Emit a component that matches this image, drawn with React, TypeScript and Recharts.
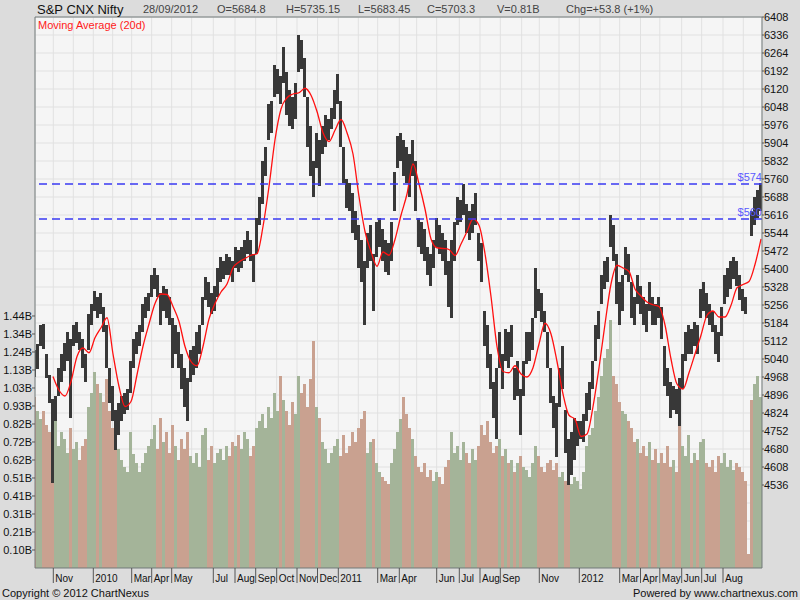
import React from 'react';
import { ComposedChart, Bar, Line, XAxis, YAxis, CartesianGrid, ReferenceLine, Cell } from 'recharts';

const FONT = "Arial, 'Liberation Sans', sans-serif";

// one point every 3 trading days, starting early Oct 2009 (trading-day index 0)
const highs: (number | null)[] = [
  // Oct 2009 - Apr 2010
  5077, 5100, 5176, 5180, 5062, 4977, 4880, 4892, 5006, 5062, 5105, 5148, 5119, 5176, 5190, 5148, 5119, 5062, 5219, 5262, 5312,
  5290, 5304, 5248, 5176, 5006, 4934, 4835, 4863, 4892, 4906, 4920, 5034, 5119, 5148, 5176, 5262, 5290, 5304, 5376, 5404, 5376,
  // Apr 2010 - Oct 2010
  5304, 5333, 5319, 5290, 5205, 5176, 5148, 5062, 5006, 4963, 5077, 5091, 5148, 5176, 5290, 5368, 5347, 5304, 5333, 5404, 5447,
  5433, 5461, 5447, 5433, 5490, 5475, 5490, 5518, 5553, 5518, 5461, 5603, 5689, 5831, 5888, 6059, 6073, 6216, 6201, 6173, 6287,
  // Oct 2010 - Apr 2011
  6187, 6116, 6087, 6144, 6336, 6315, 6244, 6087, 5973, 5831, 5945, 5917, 5973, 6016, 6002, 6045, 6116, 6180, 6073, 5888, 5760,
  5746, 5703, 5632, 5575, 5518, 5433, 5546, 5575, 5461, 5589, 5603, 5561, 5518, 5504, 5589, 5788, 5931, 5945, 5917, 5888, 5860,
  // Apr 2011 - Oct 2011
  5917, 5831, 5603, 5589, 5561, 5490, 5461, 5518, 5603, 5575, 5546, 5518, 5433, 5518, 5589, 5689, 5675, 5739, 5660, 5632, 5660,
  5703, 5546, 5504, 5233, 5176, 5062, 4949, 5006, 5148, 5062, 5162, 5148, 5176, 5006, 5034, 4920, 5034, 5148, 5148, 5205,
  // Oct 2011 - Apr 2012
  5404, 5319, 5304, 5233, 5148, 5006, 4892, 4863, 5006, 5091, 4835, 4721, 4749, 4806, 4792, 4792, 4820, 4906, 4949, 5034, 5176,
  5233, 5376, 5433, 5447, 5618, 5575, 5461, 5347, 5376, 5490, 5461, 5347, 5290, 5376, 5333, 5290, 5262, 5347, 5290, 5262, 5290,
  // May 2012 - Sep 2012
  5247, 5091, 5006, 4949, 4934, 4920, 4963, 5062, 5148, 5176, 5162, 5190, 5176, 5319, 5347, 5304, 5262, 5233, 5176, 5148, 5248,
  5376, 5404, 5433, 5447, 5433, 5376, 5319, 5290, null, 5632, 5689, 5717, 5746,
];
const lows: (number | null)[] = [
  4970, 5000, 5091, 5080, 4963, 4863, 4545, 4792, 4892, 4949, 4991, 5034, 4806, 5091, 5105, 5077, 5006, 4949, 5077, 5176, 5233,
  5205, 5219, 5148, 5006, 4863, 4792, 4678, 4735, 4792, 4820, 4835, 4906, 5006, 5062, 5091, 5148, 5205, 5233, 5290, 5319, 5290,
  5176, 5233, 5205, 5176, 5006, 5062, 5006, 4920, 4849, 4792, 4949, 4977, 5006, 5062, 5176, 5276, 5248, 5219, 5233, 5290, 5347,
  5361, 5376, 5376, 5347, 5404, 5390, 5404, 5433, 5461, 5433, 5347, 5461, 5575, 5660, 5774, 5917, 5945, 6087, 6102, 6059, 6144,
  6016, 5973, 5959, 6002, 6187, 6201, 6087, 5888, 5774, 5689, 5803, 5731, 5860, 5888, 5917, 5959, 6002, 6059, 5888, 5746, 5646,
  5632, 5546, 5518, 5404, 5347, 5176, 5404, 5433, 5233, 5447, 5490, 5433, 5390, 5376, 5433, 5632, 5803, 5831, 5774, 5746, 5689,
  5774, 5632, 5490, 5461, 5433, 5376, 5333, 5404, 5490, 5461, 5433, 5376, 5248, 5205, 5433, 5575, 5589, 5618, 5546, 5518, 5546,
  5575, 5433, 5347, 5091, 5006, 4920, 4806, 4721, 5006, 4920, 5034, 5006, 5048, 4878, 4892, 4735, 4892, 5020, 5034, 5077,
  5205, 5233, 5190, 5148, 5006, 4863, 4764, 4650, 4849, 4920, 4664, 4536, 4578, 4635, 4692, 4721, 4707, 4792, 4835, 4920, 5034,
  5119, 5262, 5319, 5347, 5490, 5433, 5262, 5176, 5233, 5376, 5347, 5205, 5176, 5262, 5219, 5176, 5148, 5233, 5176, 5176, 5205,
  5119, 4934, 4892, 4806, 4835, 4820, 4771, 4920, 5034, 5062, 5062, 5091, 5062, 5205, 5233, 5205, 5176, 5148, 5062, 5027, 5134,
  5262, 5290, 5319, 5361, 5333, 5276, 5233, 5219, null, 5532, 5575, 5603, 5632,
];
// volume in billions, one per point
const volumes: number[] = [
  0.98, 0.9, 0.85, 0.9, 0.82, 0.78, 0.95, 0.84, 0.7, 0.78, 0.74, 0.66, 0.8, 0.68, 0.72, 0.62, 0.7, 0.74, 0.92, 1.0, 1.12,
  1.05, 1.0, 0.95, 1.08, 0.9, 0.8, 0.76, 0.68, 0.62, 0.58, 0.55, 0.78, 0.65, 0.6, 0.55, 0.6, 0.66, 0.7, 0.74, 0.82, 0.68,
  0.86, 0.72, 0.78, 0.66, 0.82, 0.7, 0.62, 0.74, 0.68, 0.78, 0.64, 0.6, 0.66, 0.58, 0.76, 0.8, 0.62, 0.7, 0.6, 0.66, 0.68,
  0.62, 0.7, 0.64, 0.72, 0.7, 0.76, 0.68, 0.78, 0.74, 0.64, 0.7, 0.8, 0.84, 0.88, 0.8, 0.92, 0.86, 1.0, 0.9, 1.1, 0.96,
  0.9, 0.82, 0.95, 0.88, 1.1, 1.0, 1.05, 0.92, 1.08, 1.3, 0.92, 0.86, 0.72, 0.68, 0.6, 0.66, 0.7, 0.74, 0.64, 0.76, 0.66,
  0.7, 0.78, 0.72, 0.8, 0.85, 0.9, 0.66, 0.72, 0.74, 0.6, 0.55, 0.52, 0.5, 0.48, 0.6, 0.68, 0.78, 0.85, 0.98, 0.88, 0.8,
  0.74, 0.64, 0.58, 0.55, 0.6, 0.52, 0.56, 0.5, 0.55, 0.52, 0.48, 0.58, 0.62, 0.78, 0.66, 0.7, 0.62, 0.72, 0.66, 0.6, 0.68,
  0.62, 0.7, 0.82, 0.76, 0.84, 0.72, 0.66, 0.7, 0.74, 0.64, 0.68, 0.6, 0.62, 0.55, 0.6, 0.64, 0.58, 0.56, 0.52, 0.6,
  0.7, 0.64, 0.58, 0.55, 0.6, 0.62, 0.56, 0.6, 0.52, 0.55, 0.5, 0.58, 0.48, 0.52, 0.5, 0.45, 0.55, 0.7, 0.76, 0.8, 0.9,
  0.98, 1.1, 1.2, 1.25, 1.42, 1.1, 1.05, 0.95, 0.9, 0.88, 0.84, 0.8, 0.72, 0.74, 0.66, 0.7, 0.64, 0.72, 0.62, 0.68, 0.6,
  0.66, 0.6, 0.7, 0.58, 0.62, 0.55, 0.9, 0.7, 0.64, 0.76, 0.6, 0.66, 0.62, 0.72, 0.74, 0.6, 0.58, 0.62, 0.55, 0.64, 0.6,
  0.66, 0.58, 0.62, 0.56, 0.6, 0.58, 0.55, 0.5, 0.08, 0.96, 1.05, 1.1, 0.98,
];
// 20-day moving average read every 6 trading days from day 18
const maValues: number[] = [
  4970, 4915, 4892, 4950, 5050, 5084, 5065, 5125, 5165, 5205, 5060, 4930, 4850, 4870, 4977, 5091, 5180, 5262, 5300,
  5298, 5250, 5190, 5090, 5030, 5013, 5090, 5200, 5262, 5308, 5340, 5405, 5428, 5442, 5455, 5461, 5570, 5730, 5917, 6040,
  6085, 6100, 6105, 6123, 6095, 6030, 5945, 5910, 5955, 5998, 5945, 5860, 5690, 5550, 5470, 5411, 5468, 5455, 5518, 5615, 5700,
  5820, 5740, 5640, 5520, 5485, 5482, 5478, 5454, 5500, 5550, 5600, 5575, 5461, 5290, 5090, 4990, 4985, 5013, 4980, 4968, 5005,
  5100, 5183, 5140, 5030, 4900, 4815, 4799, 4730, 4740, 4849, 5005, 5180, 5340, 5415, 5404, 5390, 5320, 5292, 5268, 5257, 5250,
  5176, 5040, 4940, 4920, 4985, 5060, 5135, 5215, 5232, 5208, 5208, 5255, 5325, 5338, 5350, 5418, 5520,
];
const levelLines = [5740, 5600];
const levelLabels = ['$574', '$560'];

const monthTickDays = [18.3, 38.3, 58.3, 77.7, 96.7, 116.7, 136.7, 156.7, 178.3, 200, 220.7, 241.7, 262, 282.5, 303.3, 323.3,
  342.7, 364.3, 381.7, 401.7, 424.3, 445, 465.3, 486.7, 504.3, 524, 544.3, 565, 584.7, 605.5, 624.8, 646.7, 666.7, 688, 708.3];
const monthLabels = ['Nov', '', '2010', '', 'Mar', 'Apr', 'May', '', 'Jul', 'Aug', 'Sep', 'Oct', 'Nov', 'Dec', '2011', '',
  'Mar', 'Apr', '', 'Jun', 'Jul', 'Aug', 'Sep', '', 'Nov', '', '2012', '', 'Mar', 'Apr', 'May', 'Jun', 'Jul', 'Aug', ''];

const PRICE_MIN = 4204, PRICE_MAX = 6408, PRICE_STEP = 72, PRICE_LABEL_MIN = 4536;
const priceTicks: number[] = [];
for (let p = PRICE_MAX; p >= 4248; p -= PRICE_STEP) priceTicks.unshift(p);
const VOL_STEP = 0.10295;
const volumeTicks = Array.from({ length: 14 }, (_, k) => (k + 1) * VOL_STEP);

const STEP = 3, MA_START = 18, MA_STEP = 6;
type Row = { d: number; range: [number, number] | null; vol: number; mid: number | null; up: boolean; ma?: number };
const rows: Row[] = highs.map((h, i) => {
  const lo = lows[i];
  const has = h != null && lo != null;
  return { d: i * STEP, range: has ? [lo as number, h as number] : null, vol: volumes[i], mid: has ? ((h as number) + (lo as number)) / 2 : null, up: false };
});
rows.forEach((r, i) => {
  const prev = rows[i - 1];
  r.up = !!prev && r.mid != null && prev.mid != null && r.mid >= prev.mid;
});
maValues.forEach((v, k) => {
  const idx = (MA_START + k * MA_STEP) / STEP;
  if (rows[idx]) rows[idx].ma = v;
});

const GREEN = '#a4b499';
const RED = '#c9a190';
const PLOT_BOTTOM = 568;

// fixed-width column centred on the bar's slot, so neighbouring 3-day columns touch
const makeColumn = (w: number) => (props: any) => {
  const { x, y, width, height, fill } = props;
  if (x == null || y == null || !height) return <g />;
  const cx = x + width / 2;
  return <rect x={cx - w / 2} y={y} width={w} height={Math.max(height, 1)} fill={fill} shapeRendering="crispEdges" />;
};
const PriceColumn = makeColumn(3);
const VolumeColumn = makeColumn(3);

const MonthTick = (props: any) => {
  const { x, payload } = props;
  const idx = monthTickDays.indexOf(payload.value);
  const label = idx >= 0 ? monthLabels[idx] : '';
  if (!label) return <g />;
  return (
    <g>
      <line x1={x} x2={x} y1={PLOT_BOTTOM} y2={583} stroke="#555" strokeWidth={1} />
      <text x={x + 2} y={582} fontSize={10} fontFamily={FONT} fill="#111">{label}</text>
    </g>
  );
};

const PriceTick = (props: any) => {
  const { y, payload } = props;
  if (payload.value < PRICE_LABEL_MIN) return <g />;
  return (
    <g>
      <line x1={762} x2={764} y1={y} y2={y} stroke="#555" />
      <text x={764} y={y + 4} fontSize={11} fontFamily={FONT} fill="#111">{payload.value}</text>
    </g>
  );
};

const LevelLabel = (props: any) => {
  const { viewBox, text } = props;
  if (!viewBox) return null;
  return (
    <text x={viewBox.x + viewBox.width} y={viewBox.y - 3} textAnchor="end" fontSize={11} fontFamily={FONT} fill="#5a5aff">{text}</text>
  );
};

export default function App() {
  return (
    <div style={{ position: 'absolute', left: 0, top: 0, width: 800, height: 600, background: '#dcdcdc', overflow: 'hidden' }}>
      <ComposedChart width={800} height={600} data={rows} margin={{ top: 17, right: 0, bottom: 0, left: 0 }}>
        <XAxis xAxisId="vol" dataKey="d" type="number" domain={[0, 727]} allowDataOverflow hide />
        <XAxis
          xAxisId="main"
          dataKey="d"
          type="number"
          domain={[0, 727]}
          allowDataOverflow
          ticks={monthTickDays}
          interval={0}
          height={32}
          tick={<MonthTick />}
          tickLine={false}
          axisLine={{ stroke: '#707878' }}
        />
        <YAxis
          yAxisId="vol"
          orientation="left"
          width={35}
          domain={[0, 3.1514]}
          allowDataOverflow
          ticks={volumeTicks}
          interval={0}
          tickFormatter={(v: number) => v.toFixed(2) + 'B'}
          tick={{ fontSize: 11, fontFamily: FONT, fill: '#111' }}
          tickSize={3}
          tickMargin={0}
          tickLine={{ stroke: '#555' }}
          axisLine={{ stroke: '#707878' }}
        />
        <YAxis
          yAxisId="price"
          orientation="right"
          width={38}
          domain={[PRICE_MIN, PRICE_MAX]}
          allowDataOverflow
          ticks={priceTicks}
          interval={0}
          tick={<PriceTick />}
          tickLine={false}
          axisLine={{ stroke: '#707878' }}
        />
        <CartesianGrid xAxisId="main" yAxisId="price" fill="#f5f5f5" stroke="#e1e1e1" />
        <Bar xAxisId="vol" yAxisId="vol" dataKey="vol" barSize={3} shape={VolumeColumn} isAnimationActive={false}>
          {rows.map((r, i) => (
            <Cell key={i} fill={r.up ? GREEN : RED} />
          ))}
        </Bar>
        <Bar xAxisId="main" yAxisId="price" dataKey="range" barSize={3} fill="#383838" shape={PriceColumn} isAnimationActive={false} />
        <Line
          xAxisId="main"
          yAxisId="price"
          dataKey="ma"
          type="monotone"
          connectNulls
          dot={false}
          activeDot={false}
          stroke="#ff1010"
          strokeWidth={1.3}
          isAnimationActive={false}
        />
        {levelLines.map((lv, i) => (
          <ReferenceLine
            key={lv}
            xAxisId="main"
            yAxisId="price"
            y={lv}
            stroke="#3a3af2"
            strokeWidth={1.5}
            strokeDasharray="8 5"
            label={<LevelLabel text={levelLabels[i]} />}
          />
        ))}
        <ReferenceLine xAxisId="main" yAxisId="price" y={PRICE_MAX} stroke="#707878" />
      </ComposedChart>
      <svg width={800} height={600} style={{ position: 'absolute', left: 0, top: 0, pointerEvents: 'none' }}>
        <text x={37} y={14} fontSize={13} fontFamily={FONT} fill="#111">S&amp;P CNX Nifty</text>
        <text x={143} y={13} fontSize={11} fontFamily={FONT} fill="#444">28/09/2012</text>
        <text x={217} y={13} fontSize={11} fontFamily={FONT} fill="#444">O=5684.8</text>
        <text x={286} y={13} fontSize={11} fontFamily={FONT} fill="#444">H=5735.15</text>
        <text x={358} y={13} fontSize={11} fontFamily={FONT} fill="#444">L=5683.45</text>
        <text x={427} y={13} fontSize={11} fontFamily={FONT} fill="#444">C=5703.3</text>
        <text x={497} y={13} fontSize={11} fontFamily={FONT} fill="#444">V=0.81B</text>
        <text x={566} y={13} fontSize={11} fontFamily={FONT} fill="#444">Chg=+53.8 (+1%)</text>
        <text x={38} y={29} fontSize={11} fontFamily={FONT} fill="#ff1a1a">Moving Average (20d)</text>
        <text x={2} y={597} fontSize={11} fontFamily={FONT} fill="#111">Copyright © 2012 ChartNexus</text>
        <text x={798} y={597} textAnchor="end" fontSize={11} fontFamily={FONT} fill="#111">Powered by www.chartnexus.com</text>
      </svg>
    </div>
  );
}
